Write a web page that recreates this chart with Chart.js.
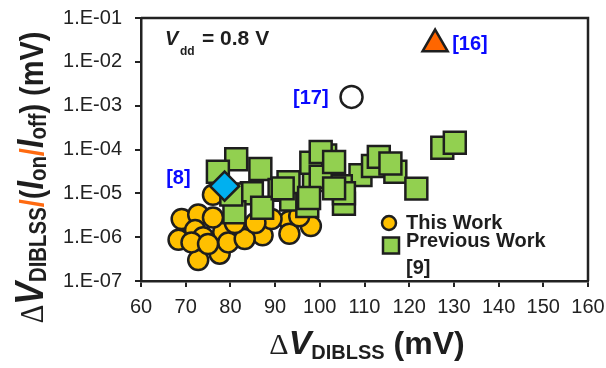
<!DOCTYPE html>
<html>
<head>
<meta charset="utf-8">
<script src="https://cdn.jsdelivr.net/npm/chart.js@4.4.0/dist/chart.umd.min.js"></script>
<style>
  html, body { margin: 0; padding: 0; background: #fff; }
  #wrap { width: 606px; height: 368px; }
</style>
</head>
<body>
<div id="wrap"><canvas id="grafico" width="606" height="368"></canvas></div>
<script>
// dados
const xTicks = [60, 70, 80, 90, 100, 110, 120, 130, 140, 150, 160]
const yTicks = [1e-7, 1e-6, 1e-5, 1e-4, 1e-3, 1e-2, 1e-1]
const yTickLabels = ['1.E-07', '1.E-06', '1.E-05', '1.E-04', '1.E-03', '1.E-02', '1.E-01']

const thisWorkX = [68.4, 69.1, 72.8, 72.1, 72.8, 77.6, 78.4, 76.1, 73.9, 76.1, 79.5, 83.9, 87.2, 93.2, 93.2, 98.0, 83.2, 71.3, 75.0, 89.2, 95.4, 85.6, 81.0]
const thisWorkY = [8.7e-7, 2.6e-6, 3.3e-6, 1.45e-6, 3.0e-7, 4.2e-7, 1.3e-6, 9.3e-6, 1.0e-6, 2.8e-6, 7.6e-7, 1.2e-6, 1.1e-6, 2.35e-6, 1.2e-6, 1.8e-6, 9.1e-7, 7.6e-7, 7.0e-7, 2.6e-6, 3.0e-6, 2.1e-6, 2.1e-6]

const previousWorkX = [81.3, 77.2, 86.7, 84.8, 91.0, 87.1, 80.9, 80.2, 93.6, 97.2, 98.7, 101.2, 98.1, 93.0, 105.4, 109.1, 104.7, 100.2, 100.2, 103.2, 105.4, 91.7, 97.6, 103.2, 111.9, 113.2, 116.9, 115.8, 121.6, 127.4, 130.2]
const previousWorkY = [6.0e-5, 3.1e-5, 3.6e-5, 1.0e-5, 1.2e-5, 4.7e-6, 3.7e-6, 9.4e-6, 7.2e-6, 5.1e-6, 2.0e-5, 7.3e-5, 5.0e-5, 1.8e-5, 5.8e-6, 2.6e-5, 1.45e-5, 2.4e-5, 8.8e-5, 5.2e-5, 1.0e-5, 1.3e-5, 7.8e-6, 1.3e-5, 4.2e-5, 6.8e-5, 3.1e-5, 4.8e-5, 1.28e-5, 1.1e-4, 1.42e-4]

const refLabels = ['[8]', '[16]', '[17]']
const refX = [78.7, 125.8, 107.1]
const refY = [1.46e-5, 2.55e-2, 1.58e-3]

const pontos = (xs, ys) => xs.map((x, i) => ({ x: x, y: ys[i] }))

const FONTE = '"Liberation Sans", Arial, sans-serif'
const SERIFA = '"Liberation Serif", "Times New Roman", serif'
const PRETO = '#1e1e1e'

// escreve texto com partes de fontes diferentes (subscritos etc)
function textoRico(ctx, partes, x, y, rot, escala) {
    let total = 0
    partes.forEach(p => { ctx.font = p.font; p.w = ctx.measureText(p.text).width; total += p.w })
    ctx.save()
    ctx.translate(x, y)
    if (rot) ctx.rotate(rot)
    ctx.scale(escala || 1, 1)
    ctx.textBaseline = 'alphabetic'
    ctx.textAlign = 'left'
    let cx = -total / 2
    partes.forEach(p => {
        ctx.font = p.font
        ctx.fillStyle = p.color || PRETO
        ctx.fillText(p.text, cx, p.dy || 0)
        cx += p.w
    })
    ctx.restore()
    return total
}

const decoracao = {
    id: 'decoracao',
    afterDraw(chart) {
        const ctx = chart.ctx
        const a = chart.chartArea
        const sx = chart.scales.x
        const sy = chart.scales.y

        // moldura superior e direita
        ctx.save()
        ctx.strokeStyle = '#222'
        ctx.lineWidth = 2.5
        ctx.beginPath()
        ctx.moveTo(a.left, a.top)
        ctx.lineTo(a.right, a.top)
        ctx.lineTo(a.right, a.bottom)
        ctx.stroke()
        ctx.restore()

        // rotulos das referencias
        ctx.save()
        ctx.font = 'bold 20px ' + FONTE
        ctx.fillStyle = '#0a0aff'
        ctx.textBaseline = 'alphabetic'
        const desloc = [[-34, -2, 'right'], [17, 6, 'left'], [-23, 7, 'right']]
        refLabels.forEach((t, i) => {
            ctx.textAlign = desloc[i][2]
            ctx.fillText(t, sx.getPixelForValue(refX[i]) + desloc[i][0], sy.getPixelForValue(refY[i]) + desloc[i][1])
        })
        ctx.restore()

        // Vdd = 0.8 V
        ctx.save()
        ctx.fillStyle = PRETO
        ctx.textAlign = 'left'
        ctx.font = 'italic bold 20px ' + FONTE
        ctx.fillText('V', 165, 45)
        ctx.font = 'bold 12px ' + FONTE
        ctx.fillText('dd', 180, 55)
        ctx.font = 'bold 21px ' + FONTE
        ctx.fillText('= 0.8 V', 202, 45)
        ctx.restore()

        // legenda
        ctx.save()
        ctx.lineWidth = 2.5
        ctx.strokeStyle = PRETO
        ctx.fillStyle = '#FFC000'
        ctx.beginPath()
        ctx.arc(389, 223, 7, 0, Math.PI * 2)
        ctx.fill()
        ctx.stroke()
        ctx.fillStyle = '#92D050'
        ctx.fillRect(383, 237.5, 16, 16)
        ctx.strokeRect(383, 237.5, 16, 16)
        ctx.fillStyle = PRETO
        ctx.font = 'bold 20px ' + FONTE
        ctx.textAlign = 'left'
        ctx.fillText('This Work', 406, 229)
        ctx.fillText('Previous Work', 406, 247)
        ctx.fillText('[9]', 406, 274)
        ctx.restore()

        // titulo eixo x
        textoRico(ctx, [
            { text: '\u0394', font: '30px ' + SERIFA },
            { text: 'V', font: 'italic bold 34px ' + FONTE },
            { text: 'DIBLSS', font: 'bold 20px ' + FONTE, dy: 5 },
            { text: ' (mV)', font: 'bold 32px ' + FONTE }
        ], 367, 354, 0, 1)

        // titulo eixo y
        const laranja = '#FF6A10'
        textoRico(ctx, [
            { text: '\u0394', font: '34px ' + SERIFA },
            { text: 'V', font: 'italic bold 40px ' + FONTE },
            { text: 'DIBLSS', font: 'bold 24px ' + FONTE, dy: 3 },
            { text: '/', font: 'bold 34px ' + FONTE, color: laranja },
            { text: '(', font: 'bold 34px ' + FONTE },
            { text: 'I', font: 'italic bold 36px ' + FONTE },
            { text: 'on', font: 'bold 24px ' + FONTE, dy: 3 },
            { text: '/', font: 'bold 34px ' + FONTE, color: laranja },
            { text: 'I', font: 'italic bold 36px ' + FONTE },
            { text: 'off', font: 'bold 24px ' + FONTE, dy: 3 },
            { text: ')', font: 'bold 34px ' + FONTE },
            { text: ' (mV)', font: 'bold 34px ' + FONTE }
        ], 43, 177.5, -Math.PI / 2, 0.85)
    }
}

const ctx = document.getElementById('grafico').getContext('2d')

const grafico = new Chart(ctx, {
    type: 'scatter',
    data: {
        datasets: [
            {
                label: '[8]',
                data: [{ x: refX[0], y: refY[0] }],
                pointStyle: 'rectRot',
                pointRadius: 14.5,
                backgroundColor: '#00B0F0',
                borderColor: PRETO,
                borderWidth: 2.5,
                order: 0
            },
            {
                label: '[16]',
                data: [{ x: refX[1], y: refY[1] }],
                pointStyle: 'triangle',
                pointRadius: 14.5,
                backgroundColor: '#FF6600',
                borderColor: PRETO,
                borderWidth: 2.5,
                order: 0
            },
            {
                label: '[17]',
                data: [{ x: refX[2], y: refY[2] }],
                pointStyle: 'circle',
                pointRadius: 11,
                backgroundColor: '#ffffff',
                borderColor: PRETO,
                borderWidth: 2.5,
                order: 0
            },
            {
                label: 'Previous Work',
                data: pontos(previousWorkX, previousWorkY),
                pointStyle: 'rect',
                pointRadius: 15.5,
                backgroundColor: '#92D050',
                borderColor: PRETO,
                borderWidth: 2.5,
                order: 1
            },
            {
                label: 'This Work',
                data: pontos(thisWorkX, thisWorkY),
                pointStyle: 'circle',
                pointRadius: 10,
                backgroundColor: '#FFC000',
                borderColor: PRETO,
                borderWidth: 2.5,
                order: 2
            }
        ]
    },
    options: {
        responsive: false,
        animation: false,
        devicePixelRatio: 1,
        events: [],
        layout: { padding: { left: 0, top: 14, right: 15, bottom: 0 } },
        plugins: {
            legend: { display: false },
            tooltip: { enabled: false }
        },
        scales: {
            x: {
                type: 'linear',
                min: 60,
                max: 160,
                afterBuildTicks: s => { s.ticks = xTicks.map(v => ({ value: v })) },
                afterFit: s => { s.height = 87; s.paddingLeft = 0; s.paddingRight = 0 },
                ticks: {
                    autoSkip: false,
                    maxRotation: 0,
                    padding: 8,
                    color: '#222',
                    font: { family: FONTE, size: 20 }
                },
                grid: { drawOnChartArea: false, drawTicks: true, tickLength: 6, color: '#222', lineWidth: 2 },
                border: { display: true, color: '#222', width: 2.5 }
            },
            y: {
                type: 'logarithmic',
                min: 1e-7,
                max: 1e-1,
                afterBuildTicks: s => { s.ticks = yTicks.map(v => ({ value: v })) },
                afterFit: s => { s.width = 141; s.paddingTop = 0; s.paddingBottom = 0 },
                ticks: {
                    autoSkip: false,
                    padding: 13,
                    color: '#222',
                    font: { family: FONTE, size: 20 },
                    callback: (v, i) => yTickLabels[i]
                },
                grid: { drawOnChartArea: false, drawTicks: true, tickLength: 6, color: '#222', lineWidth: 2 },
                border: { display: true, color: '#222', width: 2.5 }
            }
        }
    },
    plugins: [decoracao]
})
</script>
</body>
</html>
